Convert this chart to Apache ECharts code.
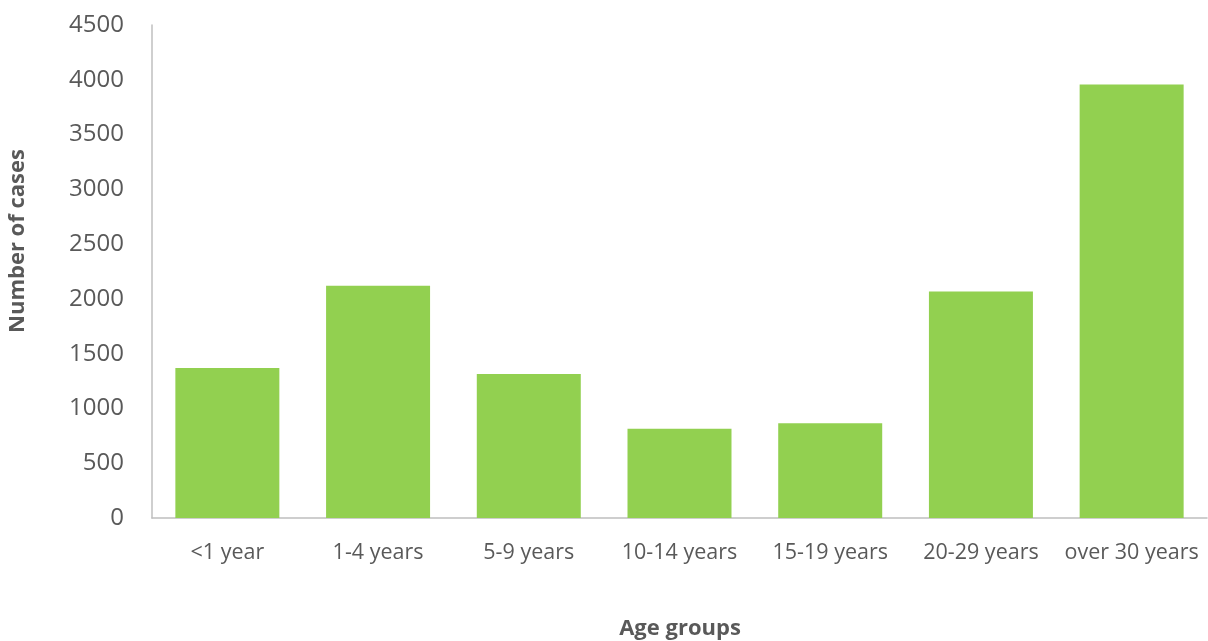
<!DOCTYPE html>
<html>
<head>
<meta charset="utf-8">
<script src="https://cdn.jsdelivr.net/npm/echarts@6/dist/echarts.min.js"></script>
<style>
html,body{margin:0;padding:0;background:#fff;}
#chart{width:1208px;height:641px;}
</style>
</head>
<body>
<div id="chart"></div>
<script>
var categories = ['<1 year', '1-4 years', '5-9 years', '10-14 years', '15-19 years', '20-29 years', 'over 30 years'];
var cases = [1370, 2120, 1315, 815, 865, 2068, 3958];
var yTicks = { min: 0, max: 4500, interval: 500 };
var xTitle = 'Age groups';
var yTitle = 'Number of cases';

var chart = echarts.init(document.getElementById('chart'));
var font = '"Open Sans", "Liberation Sans", sans-serif';
chart.setOption({
  animation: false,
  backgroundColor: '#ffffff',
  grid: { left: 152, right: 1, top: 25, bottom: 123 },
  xAxis: {
    type: 'category',
    data: categories,
    axisLine: { lineStyle: { color: '#bfbfbf', width: 1.5 } },
    axisTick: { show: false },
    axisLabel: { color: '#595959', fontFamily: font, fontSize: 21.5, margin: 24, interval: 0 }
  },
  yAxis: {
    type: 'value',
    min: yTicks.min, max: yTicks.max, interval: yTicks.interval,
    axisLine: { show: true, lineStyle: { color: '#bfbfbf', width: 1.5 } },
    axisTick: { show: false },
    splitLine: { show: false },
    axisLabel: { color: '#595959', fontFamily: font, fontSize: 24, margin: 28,
      formatter: function (v) { return String(v); } }
  },
  graphic: [
    { type: 'text', x: 18, y: 241, rotation: Math.PI / 2,
      style: { text: yTitle, fill: '#595959', font: 'bold 22px ' + font, textAlign: 'center', textVerticalAlign: 'middle' } },
    { type: 'text', x: 680, y: 629,
      style: { text: xTitle, fill: '#595959', font: 'bold 22px ' + font, textAlign: 'center', textVerticalAlign: 'middle' } }
  ],
  series: [{
    type: 'bar',
    data: cases,
    barWidth: '69%',
    itemStyle: { color: '#92d050' }
  }]
});
</script>
</body>
</html>
